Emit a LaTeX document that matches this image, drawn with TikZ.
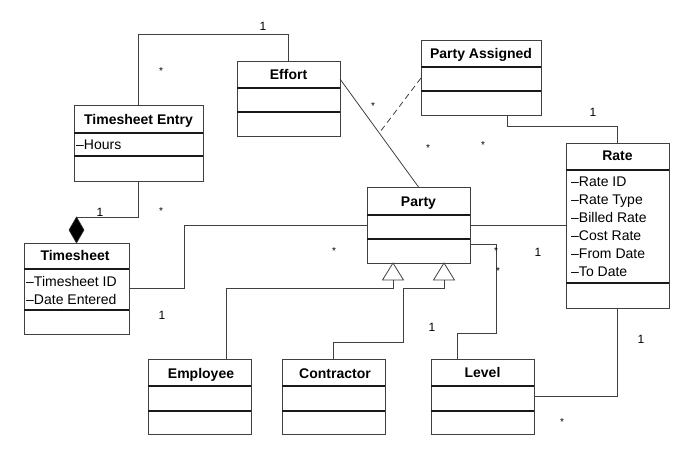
\documentclass[tikz,border=0pt]{standalone}
\usepackage{fontspec}
\setmainfont{Liberation Sans}
\usetikzlibrary{calc}
\begin{document}
\begin{tikzpicture}[x=1pt,y=-1pt,
  cls/.style={draw=black!75, line width=0.8pt, inner sep=0pt, outer sep=0pt, anchor=north west},
  div/.style={draw=black!90, line width=1.2pt},
  conn/.style={draw=black!75, line width=0.8pt},
  ttl/.style={font=\bfseries\fontsize{14}{16}\selectfont, inner sep=0pt, anchor=base},
  attr/.style={font=\fontsize{14}{16}\selectfont, inner sep=0pt, anchor=base west},
  one/.style={font=\fontsize{12}{12}\selectfont, inner sep=0pt, anchor=base},
  many/.style={font=\fontsize{10}{10}\selectfont, inner sep=0pt, anchor=base}]
\useasboundingbox (0,0) rectangle (690,451);

% classes
\node[cls, minimum width=129pt, minimum height=76pt] (te) at (74,105) {};
\node[cls, minimum width=103pt, minimum height=75pt] (eff) at (237,61) {};
\node[cls, minimum width=120pt, minimum height=75pt] (pa) at (421,40) {};
\node[cls, minimum width=105pt, minimum height=91pt] (ts) at (24,243) {};
\node[cls, minimum width=103pt, minimum height=76pt] (party) at (367,187) {};
\node[cls, minimum width=103pt, minimum height=165pt] (rate) at (566,143) {};
\node[cls, minimum width=103pt, minimum height=75pt] (emp) at (148,359) {};
\node[cls, minimum width=103pt, minimum height=75pt] (con) at (282,359) {};
\node[cls, minimum width=103pt, minimum height=75pt] (lev) at (431,359) {};

% dividers
\draw[div] ([yshift=-28pt]te.north west) -- ([yshift=-28pt]te.north east);
\draw[div] ([yshift=-51pt]te.north west) -- ([yshift=-51pt]te.north east);
\draw[div] ([yshift=-27pt]eff.north west) -- ([yshift=-27pt]eff.north east);
\draw[div] ([yshift=-51pt]eff.north west) -- ([yshift=-51pt]eff.north east);
\draw[div] ([yshift=-27pt]pa.north west) -- ([yshift=-27pt]pa.north east);
\draw[div] ([yshift=-51pt]pa.north west) -- ([yshift=-51pt]pa.north east);
\draw[div] ([yshift=-26pt]ts.north west) -- ([yshift=-26pt]ts.north east);
\draw[div] ([yshift=-67pt]ts.north west) -- ([yshift=-67pt]ts.north east);
\draw[div] ([yshift=-28pt]party.north west) -- ([yshift=-28pt]party.north east);
\draw[div] ([yshift=-52pt]party.north west) -- ([yshift=-52pt]party.north east);
\draw[div] ([yshift=-27pt]rate.north west) -- ([yshift=-27pt]rate.north east);
\draw[div] ([yshift=-140pt]rate.north west) -- ([yshift=-140pt]rate.north east);
\foreach \c in {emp,con,lev}{
  \draw[div] ([yshift=-27pt]\c.north west) -- ([yshift=-27pt]\c.north east);
  \draw[div] ([yshift=-52pt]\c.north west) -- ([yshift=-52pt]\c.north east);
}

% titles
\node[ttl] (te-t) at (138.5,124) {Timesheet Entry};
\node[ttl] (eff-t) at (288.5,79) {Effort};
\node[ttl] (pa-t) at (481,58.5) {Party Assigned};
\node[ttl] (ts-t) at (75,260.5) {Timesheet};
\node[ttl] (party-t) at (418.5,206) {Party};
\node[ttl] (rate-t) at (617.5,160) {Rate};
\node[ttl] (emp-t) at (201,378) {Employee};
\node[ttl] (con-t) at (335,378) {Contractor};
\node[ttl] (lev-t) at (482.5,377) {Level};

% attributes
\node[attr] (te-a1) at (76,149) {–Hours};
\node[attr] (ts-a1) at (26,286) {–Timesheet ID};
\node[attr] (ts-a2) at (26,304) {–Date Entered};
\node[attr] (r-a1) at (571,186) {–Rate ID};
\node[attr] (r-a2) at (571,204) {–Rate Type};
\node[attr] (r-a3) at (571,222) {–Billed Rate};
\node[attr] (r-a4) at (571,240) {–Cost Rate};
\node[attr] (r-a5) at (571,258) {–From Date};
\node[attr] (r-a6) at (571,276) {–To Date};

% bend points
\coordinate (c1) at (138.5,34);
\coordinate (c2) at (76.5,217);
\coordinate (c4) at (184,225);
\coordinate (c5) at (496,333);
\coordinate (c7) at (403,288);
\coordinate (c8) at (403,342);

% connectors
\draw[conn] (te.north) -- (c1) -| (eff.north);
\draw[conn] (te.south) |- (c2) -- ([yshift=26pt]ts.north);
\draw[fill=black, draw=black!80, line width=0.6pt] (ts.north) -- ++(7.5,-13) -- ++(-7.5,-13) -- ++(-7.5,13) -- cycle;
\draw[conn] ([yshift=-45pt]ts.north east) -| (c4) -- (party.west);
\draw[conn] (party.east) -- (rate.west |- party.east);
\draw[conn] ([yshift=-57pt]party.north east) -| (c5) -| ([xshift=-25.5pt]lev.north);
\draw[conn] (rate.south) |- ([yshift=-37pt]lev.north east);
\draw[conn] ([xshift=26pt]pa.south) -- ++(0,11) -| (rate.north);
\coordinate (ea) at ([yshift=-18pt]eff.north east);
\draw[conn] (ea) -- (party.north);
\coordinate (mid) at ($(ea)!0.5!(party.north)$);
\draw[conn, dashed, dash pattern=on 6pt off 4pt] ([yshift=-38pt]pa.north west) -- (mid);

% generalization
\coordinate (g1) at ([xshift=-25.5pt,yshift=-17pt]party.south);
\coordinate (g2) at ([xshift=25.5pt,yshift=-17pt]party.south);
\draw[conn, fill=white] ([xshift=-25.5pt]party.south) -- ++(10.5,17) -- ++(-21,0) -- cycle;
\draw[conn, fill=white] ([xshift=25.5pt]party.south) -- ++(10.5,17) -- ++(-21,0) -- cycle;
\draw[conn] (g1) -- ++(0,8) -| ([xshift=26.5pt]emp.north);
\draw[conn] (g2) |- (c7) -- (c8) -| (con.north);

% multiplicities
\node[one] (m1) at (263,30.3) {1};
\node[one] (m2) at (100,216.3) {1};
\node[one] (m3) at (162,319.3) {1};
\node[one] (m4) at (538,256.3) {1};
\node[one] (m5) at (432,331.3) {1};
\node[one] (m6) at (593,116.3) {1};
\node[one] (m7) at (641,343.3) {1};
\node[many] (s1) at (161,74) {*};
\node[many] (s2) at (161,214) {*};
\node[many] (s3) at (334,254) {*};
\node[many] (s4) at (496,254) {*};
\node[many] (s5) at (498,274) {*};
\node[many] (s6) at (373,109) {*};
\node[many] (s7) at (428,151) {*};
\node[many] (s8) at (483,148) {*};
\node[many] (s9) at (562,425) {*};
\end{tikzpicture}
\end{document}
